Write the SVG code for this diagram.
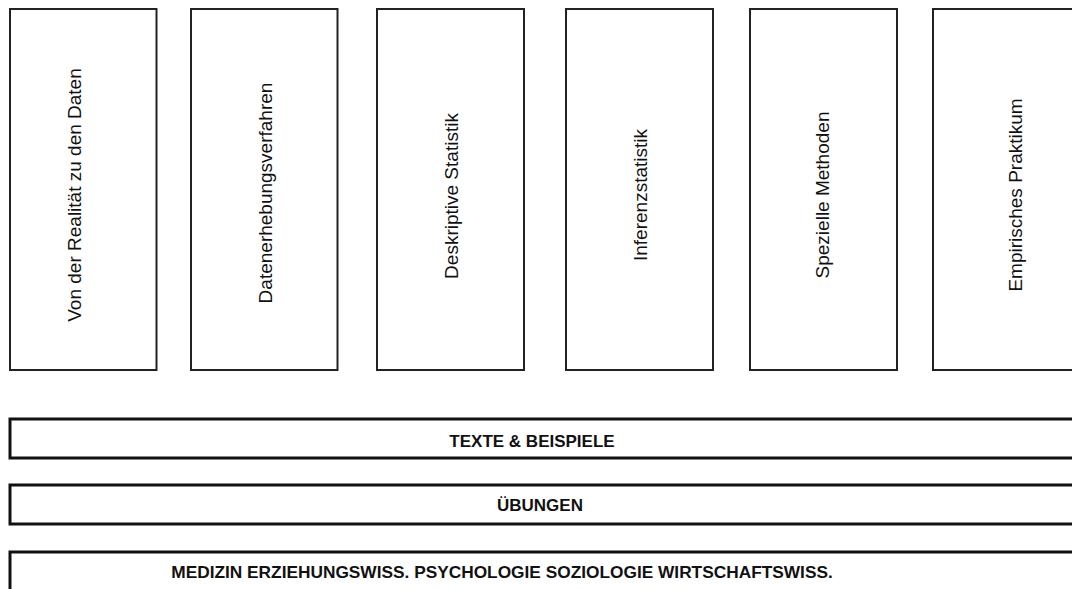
<svg xmlns="http://www.w3.org/2000/svg" width="1072" height="589" viewBox="0 0 1072 589">
<style>
.box{fill:#fff;stroke:#222;stroke-width:2}
.bar{fill:#fff;stroke:#111;stroke-width:3}
.vt{font-family:"Liberation Sans",Arial,sans-serif;font-size:19px;fill:#111;text-anchor:middle}
.ht{font-family:"Liberation Sans",Arial,sans-serif;font-size:17px;font-weight:bold;fill:#111;text-anchor:middle}
</style>
<rect width="1072" height="589" fill="#fff"/>
<g id="n1"><rect class="box" x="10" y="9" width="146.5" height="361"/><text class="vt" transform="translate(81,195) rotate(-90)">Von der Realität zu den Daten</text></g>
<g id="n2"><rect class="box" x="191" y="9" width="146.5" height="361"/><text class="vt" transform="translate(272,193) rotate(-90)">Datenerhebungsverfahren</text></g>
<g id="n3"><rect class="box" x="377" y="9" width="147" height="361"/><text class="vt" transform="translate(458,196) rotate(-90)">Deskriptive Statistik</text></g>
<g id="n4"><rect class="box" x="566" y="9" width="147" height="361"/><text class="vt" transform="translate(647,195) rotate(-90)">Inferenzstatistik</text></g>
<g id="n5"><rect class="box" x="750" y="9" width="147" height="361"/><text class="vt" transform="translate(829,195) rotate(-90)">Spezielle Methoden</text></g>
<g id="n6"><rect class="box" x="933" y="9" width="147" height="361"/><text class="vt" transform="translate(1022,195) rotate(-90)">Empirisches Praktikum</text></g>
<g id="b1"><rect class="bar" x="10" y="419" width="1080" height="39"/><text class="ht" x="532" y="447">TEXTE &amp; BEISPIELE</text></g>
<g id="b2"><rect class="bar" x="10" y="485" width="1080" height="39"/><text class="ht" x="540" y="511">ÜBUNGEN</text></g>
<g id="b3"><rect class="bar" x="10" y="552" width="1080" height="60"/><text class="ht" x="502" y="578" style="font-size:17.3px">MEDIZIN ERZIEHUNGSWISS. PSYCHOLOGIE SOZIOLOGIE WIRTSCHAFTSWISS.</text></g>
<g id="connectors"/>
</svg>
